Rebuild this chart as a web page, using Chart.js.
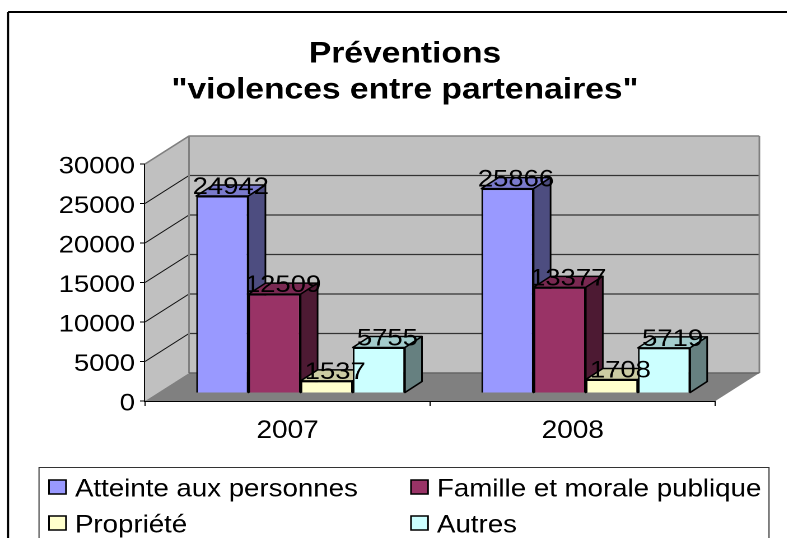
<!DOCTYPE html>
<html>
<head>
<meta charset="utf-8">
<script src="https://cdn.jsdelivr.net/npm/chart.js@4/dist/chart.umd.min.js"></script>
<style>
  html, body { margin: 0; padding: 0; background: #fff; overflow: hidden; }
  #myChart { display: block; transform-origin: 0 0; }
</style>
</head>
<body>
<canvas id="myChart"></canvas>
<script>
const titleLines = ['Préventions', '"violences entre partenaires"'];
const categories = ['2007', '2008'];
const seriesNames = ['Atteinte aux personnes', 'Famille et morale publique', 'Propriété', 'Autres'];
const atteinte = [24942, 25866];
const famille = [12509, 13377];
const propriete = [1537, 1708];
const autres = [5755, 5719];
const yTicks = [0, 5000, 10000, 15000, 20000, 25000, 30000];

const frontColors = ['#9999ff', '#993366', '#ffffcc', '#ccffff'];
const topColors = ['#7a7acc', '#7a2952', '#cccca3', '#a3cccc'];
const sideColors = ['#4d4d80', '#4d1a33', '#808066', '#668080'];
const seriesValues = [atteinte, famille, propriete, autres];

// the reference text is stretched sideways, so the whole canvas is too
const sx = 1.12;
const canvasW = 788 / sx;
const px = x => x / sx;
const font = 'Liberation Sans, Arial, sans-serif';

// depth of the box and of the bars, in screen pixels
const wallDx = px(44), wallDy = -28;
const barShiftX = px(13), barShiftY = -8;
const barDx = px(17), barDy = -11;

const canvas = document.getElementById('myChart');
canvas.width = canvasW;
canvas.height = 538;
canvas.style.transform = 'scaleX(' + sx + ')';

function line(ctx, x1, y1, x2, y2, color, width) {
    ctx.strokeStyle = color;
    ctx.lineWidth = width;
    ctx.beginPath();
    ctx.moveTo(x1, y1);
    ctx.lineTo(x2, y2);
    ctx.stroke();
}

function poly(ctx, pts, fill, stroke, width) {
    ctx.beginPath();
    pts.forEach((p, i) => i ? ctx.lineTo(p[0], p[1]) : ctx.moveTo(p[0], p[1]));
    ctx.closePath();
    ctx.fillStyle = fill;
    ctx.fill();
    if (stroke) {
        ctx.strokeStyle = stroke;
        ctx.lineWidth = width;
        ctx.stroke();
    }
}

const box3d = {
    id: 'box3d',
    beforeDatasetsDraw(chart) {
        const ctx = chart.ctx, y = chart.scales.y, a = chart.chartArea;
        const l = a.left, r = a.right, t = y.getPixelForValue(30000), b = y.getPixelForValue(0);

        // frame of the picture, open on the right
        ctx.save();
        line(ctx, px(8), 12, px(8), 538, '#000', 2);
        line(ctx, px(8), 12, canvasW, 12, '#000', 2);

        poly(ctx, [[l, b], [l + wallDx, b + wallDy], [l + wallDx, t + wallDy], [l, t]], '#c0c0c0');
        poly(ctx, [[l + wallDx, b + wallDy], [r + wallDx, b + wallDy], [r + wallDx, t + wallDy], [l + wallDx, t + wallDy]], '#c0c0c0');

        yTicks.slice(1, -1).forEach(v => {
            const p = y.getPixelForValue(v);
            line(ctx, l, p, l + wallDx, p + wallDy, '#111', 1);
            line(ctx, l + wallDx, p + wallDy, r + wallDx, p + wallDy, '#333', 1.3);
        });

        poly(ctx, [[l, b], [l + wallDx, b + wallDy], [r + wallDx, b + wallDy], [r, b]], '#808080');
        line(ctx, l, t, l + wallDx, t + wallDy, '#808080', 1.5);
        line(ctx, l + wallDx, t + wallDy, r + wallDx, t + wallDy, '#808080', 1.5);
        line(ctx, l + wallDx, t + wallDy, l + wallDx, b + wallDy, '#808080', 1.5);
        line(ctx, r + wallDx, t + wallDy, r + wallDx, b + wallDy, '#808080', 1.5);
        line(ctx, l + wallDx, b + wallDy, r + wallDx, b + wallDy, '#666', 1.5);
        ctx.restore();

        // bars stand inside the box, not on the front edge of the floor
        ctx.save();
        ctx.translate(barShiftX, barShiftY);

        // top and side faces go first, series by series, fronts cover them afterwards
        ctx.save();
        ctx.lineJoin = 'round';
        chart.data.datasets.forEach((ds, i) => {
            chart.getDatasetMeta(i).data.forEach(bar => {
                const x1 = bar.x - bar.width / 2, x2 = bar.x + bar.width / 2;
                poly(ctx, [[x1, bar.y], [x1 + barDx, bar.y + barDy], [x2 + barDx, bar.y + barDy], [x2, bar.y]], topColors[i], '#000', 1.5);
                poly(ctx, [[x2, bar.y], [x2 + barDx, bar.y + barDy], [x2 + barDx, bar.base + barDy], [x2, bar.base]], sideColors[i], '#000', 1.5);
            });
        });
        ctx.restore();
    },
    afterDatasetsDraw(chart) {
        const ctx = chart.ctx;
        ctx.restore();

        // value labels sit on the top face of each bar
        ctx.save();
        ctx.font = '24.5px ' + font;
        ctx.fillStyle = '#000';
        ctx.textAlign = 'center';
        ctx.textBaseline = 'alphabetic';
        chart.data.datasets.forEach((ds, i) => {
            chart.getDatasetMeta(i).data.forEach((bar, j) => {
                ctx.fillText(ds.data[j], bar.x + barShiftX + px(8.5), bar.y + barShiftY - 2);
            });
        });
        ctx.restore();
    },
    afterDraw(chart) {
        const ctx = chart.ctx;
        ctx.save();
        ctx.fillStyle = '#fff';
        ctx.strokeStyle = '#333';
        ctx.lineWidth = 1;
        ctx.fillRect(px(39), 467, px(730), 80);
        ctx.strokeRect(px(39), 467.5, px(730), 80);
        ctx.font = '24.7px ' + font;
        ctx.textBaseline = 'middle';
        const xs = [px(49), px(411)], ys = [487, 523];
        chart.data.datasets.forEach((ds, i) => {
            const x = xs[i % 2], y = ys[i >> 1];
            ctx.fillStyle = frontColors[i];
            ctx.fillRect(x, y - 7, px(17), 14);
            ctx.strokeStyle = '#000';
            ctx.lineWidth = 1.5;
            ctx.strokeRect(x, y - 7, px(17), 14);
            ctx.fillStyle = '#000';
            ctx.fillText(ds.label, x + px(26), y + 2.5);
        });
        ctx.restore();
    },
    afterLayout(chart) {
        // title is centred a little right of the middle of the page
        chart.titleBlock.left = px(22);
        chart.titleBlock.right = canvasW;
        // y labels sit a little lower than Chart.js puts them
        const y = chart.scales.y;
        y._labelItems = y._computeLabelItems(chart.chartArea);
        y._labelItems.forEach(item => { item.options.translation[1] += 2.5; });
    }
};

const data = {
    labels: categories,
    datasets: seriesNames.map((name, i) => ({
        label: name,
        data: seriesValues[i],
        backgroundColor: frontColors[i],
        borderColor: '#000',
        borderWidth: 1.5,
        barPercentage: 1,
        categoryPercentage: 0.732
    }))
};

const myChart = new Chart(canvas, {
    type: 'bar',
    data,
    options: {
        responsive: false,
        animation: false,
        devicePixelRatio: 2,
        layout: { padding: { left: 0, right: px(72), top: 0, bottom: 100 } },
        plugins: {
            legend: { display: false },
            tooltip: { enabled: false },
            title: {
                display: true,
                text: titleLines,
                color: '#000',
                font: { family: font, size: 30, weight: 'bold', lineHeight: 1.2 },
                padding: { top: 36, bottom: 56 }
            }
        },
        scales: {
            x: {
                afterFit(scale) { scale.height = 37; },
                grid: { drawOnChartArea: false, color: '#000', tickLength: 5 },
                border: { color: '#000', width: 1.5 },
                ticks: { color: '#000', padding: 10, font: { family: font, size: 25 } }
            },
            y: {
                min: 0,
                max: 30000,
                afterFit(scale) { scale.width = px(145); },
                afterBuildTicks(scale) { scale.ticks = yTicks.map(v => ({ value: v })); },
                grid: { drawOnChartArea: false, color: '#000', tickLength: px(5) },
                border: { color: '#000', width: 1.5 },
                ticks: {
                    color: '#000',
                    padding: px(5),
                    font: { family: font, size: 24.5 },
                    callback: v => String(v)
                }
            }
        }
    },
    plugins: [box3d]
});
</script>
</body>
</html>
